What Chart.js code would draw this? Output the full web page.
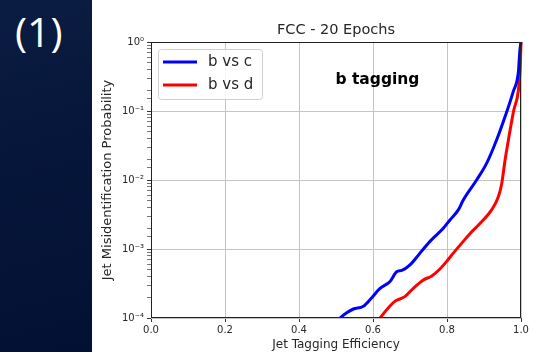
<!DOCTYPE html>
<html>
<head>
<meta charset="utf-8">
<script src="https://cdn.jsdelivr.net/npm/chart.js@4.4.1/dist/chart.umd.min.js"></script>
<style>
  html, body { margin: 0; padding: 0; background: #fff; }
  #page { position: relative; width: 559px; height: 352px; overflow: hidden; background: #fff; }
  #side { position: absolute; left: 0; top: 0; width: 92px; height: 352px;
          background: linear-gradient(165deg, #0b1c42 0%, #06163a 45%, #021133 100%); }
  #num { position: absolute; left: 15px; top: 3px; color: #fff;
         font-family: 'Open Sans', sans-serif; font-size: 41px; }
  #rocChart { position: absolute; left: 0; top: 0; }
</style>
</head>
<body>
<div id="page">
  <div id="side"><div id="num">(1)</div></div>
  <canvas id="rocChart" width="559" height="352"></canvas>
</div>
<script>
// efficacite de tagging / probabilite de mauvaise identification
const effBC = [0.500, 0.511, 0.530, 0.547, 0.574, 0.596, 0.619, 0.646, 0.664, 0.678, 0.700, 0.727, 0.754, 0.790, 0.808, 0.831, 0.844, 0.880, 0.907, 0.934, 0.957, 0.979, 0.993, 0.997, 1.000];
const misBC = [8.6e-5, 1.0e-4, 1.20e-4, 1.35e-4, 1.48e-4, 1.95e-4, 2.69e-4, 3.39e-4, 4.68e-4, 4.90e-4, 5.89e-4, 8.71e-4, 1.29e-3, 2.00e-3, 2.63e-3, 3.72e-3, 5.13e-3, 1.0e-2, 1.74e-2, 3.80e-2, 8.32e-2, 0.191, 0.372, 0.759, 1.0];

const effBD = [0.610, 0.619, 0.637, 0.659, 0.686, 0.709, 0.736, 0.759, 0.781, 0.799, 0.817, 0.844, 0.865, 0.889, 0.921, 0.939, 0.948, 0.957, 0.966, 0.980, 0.993, 0.998, 1.000];
const misBD = [8.8e-5, 1.0e-4, 1.32e-4, 1.74e-4, 2.04e-4, 2.69e-4, 3.55e-4, 4.07e-4, 5.13e-4, 6.61e-4, 8.71e-4, 1.29e-3, 1.74e-3, 2.34e-3, 3.72e-3, 5.75e-3, 8.91e-3, 1.95e-2, 3.80e-2, 0.10, 0.20, 0.45, 1.0];

const seriesLabels = ['b vs c', 'b vs d'];
const seriesColors = ['#0000ff', '#ff0000'];
const xTicks = [0.0, 0.2, 0.4, 0.6, 0.8, 1.0];
const yTicks = [1e-4, 1e-3, 1e-2, 1e-1, 1];
const chartTitle = 'FCC - 20 Epochs';

const textColor = '#262626';
const gridColor = '#c4c4c4';

function toPoints(xs, ys) {
    return xs.map((x, i) => ({ x: x, y: ys[i] }));
}

function isDecade(v) {
    const l = Math.log10(v);
    return Math.abs(l - Math.round(l)) < 1e-9;
}

const sup = { '-': '⁻', '0': '⁰', '1': '¹', '2': '²', '3': '³', '4': '⁴', '5': '⁵', '6': '⁶', '7': '⁷', '8': '⁸', '9': '⁹' };
function powLabel(v) {
    const e = String(Math.round(Math.log10(v)));
    return '10' + e.split('').map(c => sup[c]).join('');
}

// titre centre sur la zone du graphe, cadre, legende et annotation
const decorations = {
    id: 'decorations',
    afterDatasetsDraw(chart) {
        const { ctx, chartArea: a, scales } = chart;
        ctx.save();

        ctx.font = '14.5px "DejaVu Sans"';
        ctx.fillStyle = textColor;
        ctx.textAlign = 'center';
        ctx.textBaseline = 'middle';
        ctx.fillText(chartTitle, (a.left + a.right) / 2, a.top - 12);

        ctx.strokeStyle = '#222';
        ctx.lineWidth = 1;
        ctx.strokeRect(a.left + 0.5, a.top + 0.5, a.right - a.left - 1, a.bottom - a.top - 1);

        // legende
        const bx = a.left + 7, by = a.top + 7, bw = 104, bh = 50;
        ctx.fillStyle = 'rgba(255,255,255,0.85)';
        ctx.strokeStyle = '#d0d0d0';
        ctx.beginPath();
        ctx.roundRect(bx + 0.5, by + 0.5, bw, bh, 3);
        ctx.fill();
        ctx.stroke();

        ctx.font = '15px "DejaVu Sans"';
        ctx.textAlign = 'left';
        chart.data.datasets.forEach((ds, i) => {
            const y = by + 13 + i * 23;
            ctx.strokeStyle = ds.borderColor;
            ctx.lineWidth = 3;
            ctx.beginPath();
            ctx.moveTo(bx + 5, y);
            ctx.lineTo(bx + 39, y);
            ctx.stroke();
            ctx.fillStyle = textColor;
            ctx.fillText(ds.label, bx + 50, y);
        });

        ctx.font = 'bold 15.5px "DejaVu Sans"';
        ctx.fillStyle = '#000';
        ctx.textAlign = 'center';
        ctx.fillText('b tagging', scales.x.getPixelForValue(0.612), scales.y.getPixelForValue(0.28));
        ctx.restore();
    }
};

const ctx = document.getElementById('rocChart').getContext('2d');
new Chart(ctx, {
    type: 'line',
    data: {
        datasets: [
            { label: seriesLabels[0], data: toPoints(effBC, misBC), borderColor: seriesColors[0] },
            { label: seriesLabels[1], data: toPoints(effBD, misBD), borderColor: seriesColors[1] }
        ]
    },
    options: {
        responsive: false,
        animation: false,
        layout: { padding: { left: 96, right: 38, top: 42, bottom: 0 } },
        elements: {
            point: { radius: 0 },
            line: { borderWidth: 3, cubicInterpolationMode: 'monotone', fill: false }
        },
        datasets: { line: { clip: { left: 0, top: 2, right: 2, bottom: 0 } } },
        plugins: {
            legend: { display: false },
            tooltip: { enabled: false },
            title: { display: false }
        },
        scales: {
            x: {
                type: 'linear',
                min: 0,
                max: 1,
                afterFit(scale) { scale.height = 34; },
                afterBuildTicks(scale) { scale.ticks = xTicks.map(v => ({ value: v })); },
                ticks: {
                    color: textColor,
                    font: { family: 'DejaVu Sans', size: 10 },
                    padding: 2,
                    maxRotation: 0,
                    callback: v => v.toFixed(1)
                },
                grid: { color: gridColor, tickColor: '#333', tickLength: 4, lineWidth: 1 },
                border: { display: false },
                title: {
                    display: true,
                    text: 'Jet Tagging Efficiency',
                    color: textColor,
                    font: { family: 'DejaVu Sans', size: 12 },
                    padding: { top: 0, bottom: 0 }
                }
            },
            y: {
                type: 'logarithmic',
                min: 1e-4,
                max: 1,
                afterFit(scale) { scale.width = 55; },
                ticks: {
                    autoSkip: false,
                    color: textColor,
                    font: { family: 'DejaVu Sans', size: 10 },
                    padding: 3,
                    callback: v => (yTicks.some(t => Math.abs(t - v) / t < 1e-6) ? powLabel(v) : '')
                },
                grid: {
                    color: c => (c.tick && isDecade(c.tick.value) ? gridColor : 'rgba(0,0,0,0)'),
                    tickColor: c => (c.tick && isDecade(c.tick.value) ? '#333' : '#777'),
                    tickLength: 4,
                    lineWidth: 1
                },
                border: { display: false },
                title: {
                    display: true,
                    text: 'Jet Misidentification Probability',
                    color: textColor,
                    font: { family: 'DejaVu Sans', size: 13 },
                    padding: { top: 4, bottom: 2 }
                }
            }
        }
    },
    plugins: [decorations]
});
</script>
</body>
</html>
